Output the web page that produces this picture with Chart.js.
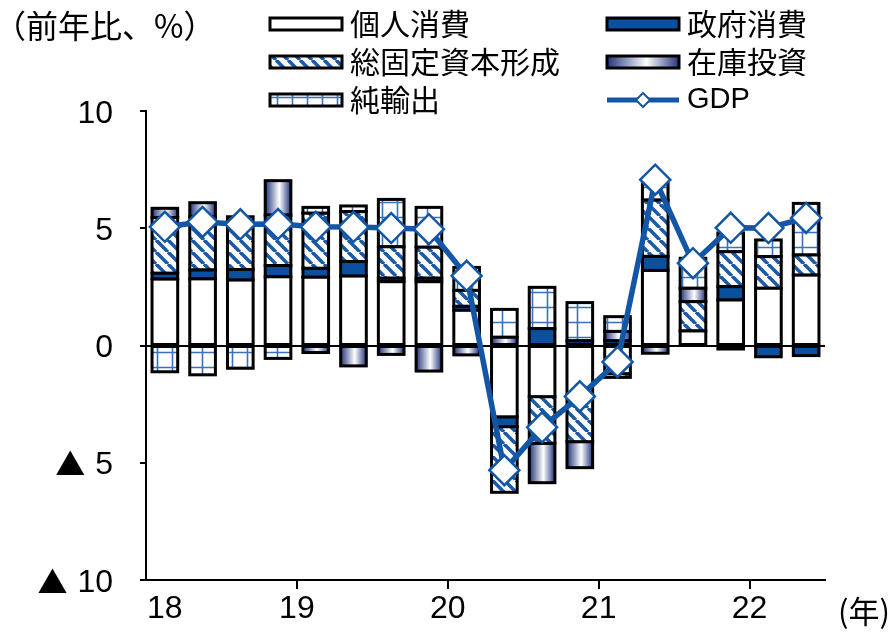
<!DOCTYPE html>
<html>
<head>
<meta charset="utf-8">
<script src="https://cdn.jsdelivr.net/npm/chart.js@4.4.1/dist/chart.umd.min.js"></script>
<style>
  html, body { margin: 0; padding: 0; background: #fff; }
  #wrap { width: 894px; height: 633px; position: relative; }
</style>
</head>
<body>
<div id="wrap"><canvas id="chart"></canvas></div>
<script>
// Quarterly real GDP growth (y/y, %) and contributions by demand component
const quarters = ['2018Q1','2018Q2','2018Q3','2018Q4','2019Q1','2019Q2','2019Q3','2019Q4',
                  '2020Q1','2020Q2','2020Q3','2020Q4','2021Q1','2021Q2','2021Q3','2021Q4',
                  '2022Q1','2022Q2'];
const yearLabels = ['18', '19', '20', '21', '22'];
const seriesNames = ['個人消費', '政府消費', '総固定資本形成', '在庫投資', '純輸出', 'GDP'];

const privateConsumption = [2.83, 2.84, 2.79, 2.93, 2.91, 2.96, 2.72, 2.72, 1.50, -3.04, -2.18, -2.11, -1.20, 3.20, 0.62, 1.94, 2.44, 3.00];
const governmentConsumption = [0.25, 0.38, 0.45, 0.48, 0.38, 0.62, 0.15, 0.15, 0.17, -0.42, 0.72, 0.20, 0.20, 0.60, 0, 0.57, -0.48, -0.43];
const fixedInvestment = [2.37, 2.27, 2.25, 2.15, 2.35, 2.13, 1.34, 1.32, 0.68, -2.80, -1.99, -1.99, -0.16, 2.40, 1.25, 1.49, 1.35, 0.86];
const inventories = [0.40, 0.60, 0, 1.47, -0.30, -0.87, -0.38, -1.09, -0.40, 0.35, -1.68, -1.11, 0.40, -0.33, 0.57, -0.15, 0, 0];
const netExports = [-1.12, -1.25, -0.97, -0.55, 0.25, 0.24, 2.02, 1.70, 0.98, 1.19, 1.76, 1.63, 0.63, 0.70, 1.28, 0.80, 0.71, 2.20];
const gdpGrowth = [5.06, 5.27, 5.17, 5.18, 5.06, 5.05, 5.01, 4.96, 2.97, -5.32, -3.49, -2.17, -0.70, 7.07, 3.51, 5.02, 5.01, 5.44];

const yTickValues = [10, 5, 0, -5, -10];

const BLUE = '#0b4f9f';
const LINE_BLUE = '#1456a6';
const NAVY = '#22347c';
const LATIN = '"Liberation Sans", Arial, sans-serif';
const CJK = '"Noto Sans CJK JP", sans-serif';

const canvas = document.getElementById('chart');
const ctx = canvas.getContext('2d');

function hatchPattern() {
  const s = 12;
  const c = document.createElement('canvas');
  c.width = s; c.height = s;
  const g = c.getContext('2d');
  g.fillStyle = '#fff';
  g.fillRect(0, 0, s, s);
  g.strokeStyle = '#1a5aa8';
  g.lineWidth = 3.6;
  for (const k of [-s, 0, s]) {
    g.beginPath();
    g.moveTo(k, 0);
    g.lineTo(k + s, s);
    g.stroke();
  }
  return ctx.createPattern(c, 'repeat');
}

function gridPattern() {
  const s = 15;
  const c = document.createElement('canvas');
  c.width = s; c.height = s;
  const g = c.getContext('2d');
  g.fillStyle = '#fff';
  g.fillRect(0, 0, s, s);
  g.strokeStyle = '#3a72bb';
  g.lineWidth = 1.6;
  g.beginPath();
  g.moveTo(7.5, 0); g.lineTo(7.5, s);
  g.moveTo(0, 7.5); g.lineTo(s, 7.5);
  g.stroke();
  return ctx.createPattern(c, 'repeat');
}

function cylinderGradient(c, left, right) {
  const g = c.createLinearGradient(left, 0, right, 0);
  g.addColorStop(0, NAVY);
  g.addColorStop(0.55, '#ffffff');
  g.addColorStop(1, NAVY);
  return g;
}

const HATCH = hatchPattern();
const GRID = gridPattern();

// Bars are filled by Chart.js; every stacked segment then gets a black outline,
// and the stock-building segments get a left-to-right shaded fill.
const segmentStyle = {
  id: 'segmentStyle',
  beforeDatasetDraw(chart, args) {
    const ds = chart.data.datasets[args.index];
    if (ds.label !== '在庫投資') return;
    args.meta.data.forEach(el => {
      el.options.backgroundColor = cylinderGradient(chart.ctx, el.x - el.width / 2, el.x + el.width / 2);
    });
  },
  afterDatasetDraw(chart, args) {
    if (args.meta.type !== 'bar') return;
    const ds = chart.data.datasets[args.index];
    const c = chart.ctx;
    c.save();
    c.strokeStyle = '#000';
    c.lineWidth = 3;
    args.meta.data.forEach((el, i) => {
      if (!ds.data[i]) return;
      const l = el.x - el.width / 2;
      const t = Math.min(el.y, el.base);
      const b = Math.max(el.y, el.base);
      c.strokeRect(l, t, el.width, b - t);
    });
    c.restore();
  }
};

// Title, two-column legend, axis labels and unit
const decorations = {
  id: 'decorations',
  afterDraw(chart) {
    const c = chart.ctx;
    const xs = chart.scales.x;
    const ys = chart.scales.y;
    c.save();
    c.fillStyle = '#000';
    c.textBaseline = 'middle';

    c.font = '32px ' + CJK;
    c.textAlign = 'left';
    c.fillText('（前年比、%）', -6, 26);

    // value labels; negatives carry a leading triangle
    c.textAlign = 'right';
    c.textBaseline = 'alphabetic';
    yTickValues.forEach(v => {
      const y = ys.getPixelForValue(v) + 11.5;
      c.font = '32px ' + LATIN;
      const txt = String(Math.abs(v));
      c.fillText(txt, 113, y);
      if (v < 0) {
        const w = c.measureText(txt).width;
        c.font = '30px ' + CJK;
        c.fillText('▲', 113 - w - 10, y + 1);
      }
    });

    // year labels centred on the boundary before each first quarter
    c.textBaseline = 'middle';
    c.font = '32px ' + LATIN;
    c.textAlign = 'center';
    yearLabels.forEach((lab, k) => {
      const i = k * 4;
      const x = k === 0 ? xs.getPixelForValue(0)
                        : (xs.getPixelForValue(i - 1) + xs.getPixelForValue(i)) / 2;
      c.fillText(lab, x, 609);
    });
    c.font = '31px ' + CJK;
    c.fillText('(年)', 864, 611);

    // legend
    const fills = [null, BLUE, HATCH, 'cyl', GRID];
    const slots = [
      { x: 270, y: 24 }, { x: 607, y: 24 },
      { x: 270, y: 62 }, { x: 607, y: 62 },
      { x: 270, y: 100 }, { x: 607, y: 100 }
    ];
    chart.data.datasets.forEach((ds, di) => {
      const p = slots[di];
      const w = 72, h = 12;
      if (ds.type === 'line') {
        c.strokeStyle = LINE_BLUE;
        c.lineWidth = 5;
        c.beginPath();
        c.moveTo(p.x, p.y); c.lineTo(p.x + w, p.y);
        c.stroke();
        const cx = p.x + w / 2, r = 7;
        c.beginPath();
        c.moveTo(cx, p.y - r); c.lineTo(cx + r, p.y); c.lineTo(cx, p.y + r); c.lineTo(cx - r, p.y);
        c.closePath();
        c.fillStyle = '#fff';
        c.fill();
        c.lineWidth = 2;
        c.stroke();
      } else {
        const f = fills[di];
        c.fillStyle = f === null ? '#fff' : (f === 'cyl' ? cylinderGradient(c, p.x, p.x + w) : f);
        c.fillRect(p.x, p.y - h / 2, w, h);
        c.strokeStyle = '#000';
        c.lineWidth = 3;
        c.strokeRect(p.x, p.y - h / 2, w, h);
      }
      c.fillStyle = '#000';
      c.font = (ds.type === 'line' ? '29px ' + LATIN : '30px ' + CJK);
      c.textAlign = 'left';
      c.fillText(ds.label, p.x + w + 8, p.y);
    });
    c.restore();
  }
};

Chart.defaults.font.family = LATIN;
Chart.defaults.color = '#000';

const barBase = { type: 'bar', order: 1, borderWidth: 0, barPercentage: 0.68, categoryPercentage: 1.0 };

new Chart(ctx, {
  data: {
    labels: quarters,
    datasets: [
      Object.assign({ label: seriesNames[0], data: privateConsumption, backgroundColor: '#fff' }, barBase),
      Object.assign({ label: seriesNames[1], data: governmentConsumption, backgroundColor: BLUE }, barBase),
      Object.assign({ label: seriesNames[2], data: fixedInvestment, backgroundColor: HATCH }, barBase),
      Object.assign({ label: seriesNames[3], data: inventories, backgroundColor: () => NAVY }, barBase),
      Object.assign({ label: seriesNames[4], data: netExports, backgroundColor: GRID }, barBase),
      {
        type: 'line', label: seriesNames[5], data: gdpGrowth, order: 0,
        borderColor: LINE_BLUE, borderWidth: 5.5, tension: 0,
        pointStyle: 'rectRot', pointRadius: 15, pointBackgroundColor: '#fff',
        pointBorderColor: LINE_BLUE, pointBorderWidth: 2.5, clip: false
      }
    ]
  },
  options: {
    responsive: true,
    maintainAspectRatio: false,
    animation: false,
    events: [],
    layout: { padding: { left: 0, top: 111, right: 69, bottom: 0 } },
    plugins: { legend: { display: false }, tooltip: { enabled: false } },
    scales: {
      x: {
        type: 'category',
        stacked: true,
        offset: true,
        afterFit: s => { s.height = 53; },
        ticks: { display: false },
        grid: {
          offset: true,
          drawOnChartArea: false,
          drawTicks: true,
          tickLength: 9,
          lineWidth: 2,
          color: c => (c.index > 0 && c.index % 4 === 0) ? '#000' : 'rgba(0,0,0,0)'
        },
        border: { display: true, color: '#000', width: 2 }
      },
      y: {
        stacked: true,
        min: -10,
        max: 10,
        afterFit: s => { s.width = 146; },
        afterBuildTicks: s => { s.ticks = yTickValues.map(v => ({ value: v })); },
        ticks: { display: false },
        grid: {
          drawTicks: true,
          tickLength: 6,
          tickColor: '#000',
          tickWidth: 2,
          lineWidth: 2,
          color: c => (c.tick && c.tick.value === 0) ? '#000' : 'rgba(0,0,0,0)'
        },
        border: { display: true, color: '#000', width: 2 }
      }
    }
  },
  plugins: [segmentStyle, decorations]
});
</script>
</body>
</html>
